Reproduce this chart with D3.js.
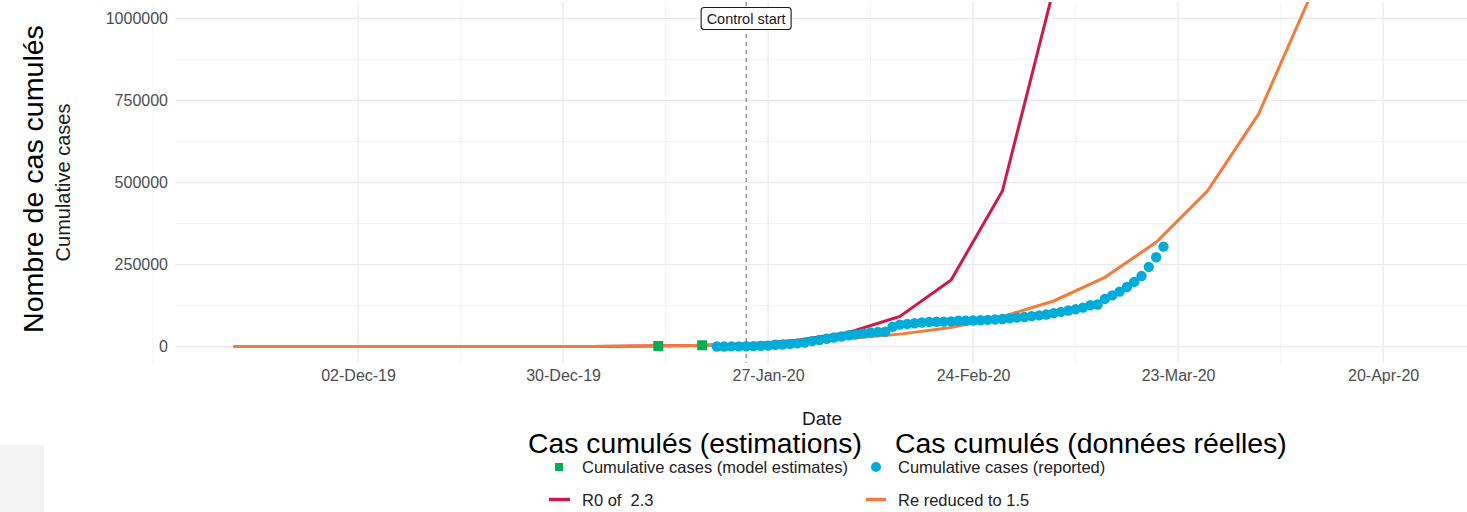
<!DOCTYPE html>
<html>
<head>
<meta charset="utf-8">
<script src="https://cdn.jsdelivr.net/npm/d3@7"></script>
<style>
body { margin: 0; background: #fff; overflow: hidden; }
svg text { font-family: "Liberation Sans", Arial, sans-serif; }
</style>
</head>
<body>
<div id="chart"></div>
<script>
// weekly model trajectories (Fridays)
var weekDates = ["2019-11-15", "2019-11-22", "2019-11-29", "2019-12-06", "2019-12-13", "2019-12-20",
  "2019-12-27", "2020-01-03", "2020-01-10", "2020-01-17", "2020-01-24", "2020-01-31", "2020-02-07",
  "2020-02-14", "2020-02-21", "2020-02-28", "2020-03-06", "2020-03-13", "2020-03-20", "2020-03-27",
  "2020-04-03", "2020-04-10", "2020-04-17"];
var r0Values = [2, 5, 11, 25, 55, 125, 280, 640, 1450, 3300, 7800, 19000, 43000, 92000, 203000,
  474000, 1090000, 2500000];
var reValues = [2, 5, 11, 25, 55, 125, 280, 640, 1450, 3300, 7800, 16000, 25000, 38000, 58000,
  91000, 139000, 211000, 318000, 474000, 709000, 1065000, 1600000];

// model estimates (green squares)
var estDates = ["2020-01-12", "2020-01-18"];
var estValues = [1723, 4000];

// reported cumulative cases, daily from 20-Jan-20
var reportedStart = "2020-01-20";
var reportedValues = [282, 314, 555, 654, 941, 1434, 2118, 2927, 5578, 6166, 8234, 9927, 12038, 16787,
  19887, 23898, 27643, 30802, 34395, 37129, 40160, 42769, 44811, 45229, 60381, 66909, 69052, 71235,
  73270, 75152, 75652, 76212, 76843, 78599, 78985, 79570, 80415, 81397, 82756, 84124, 86013, 88371,
  90309, 92844, 95124, 97886, 101800, 105836, 109835, 113582, 118582, 125865, 128343, 145193, 156094,
  167446, 181527, 197142, 214910, 242708, 272166, 304524];

var controlDate = "2020-01-24";

// axis ticks
var xTickDates = ["2019-12-02", "2019-12-30", "2020-01-27", "2020-02-24", "2020-03-23", "2020-04-20"];
var xTickLabels = ["02-Dec-19", "30-Dec-19", "27-Jan-20", "24-Feb-20", "23-Mar-20", "20-Apr-20"];
var xMinorDates = ["2019-11-04", "2019-12-16", "2020-01-13", "2020-02-10", "2020-03-09", "2020-04-06"];
var yTicks = [0, 250000, 500000, 750000, 1000000];
var yMinor = [125000, 375000, 625000, 875000];

var colRed = "#d3174a", colOrange = "#f47b3a", colBlue = "#00acd9", colGreen = "#07ad53";

var W = 1467, H = 512;
var panel = {left: 175, right: 1471, top: 2, bottom: 363};
var parse = d3.utcParse("%Y-%m-%d");

var svg = d3.select("#chart").append("svg")
    .attr("width", W)
    .attr("height", H);

var x = d3.scaleUtc()
    .domain([parse("2019-11-07"), parse("2020-05-02")])
    .range([panel.left, panel.right]);
var y = d3.scaleLinear()
    .domain([-50000, 1050000])
    .range([panel.bottom, panel.top]);

// grid
var grid = svg.append("g");
grid.selectAll(".ymin").data(yMinor).enter().append("line")
    .attr("x1", panel.left).attr("x2", W)
    .attr("y1", d => y(d)).attr("y2", d => y(d))
    .attr("stroke", "#f0f0f0").attr("stroke-width", 0.8);
grid.selectAll(".xmin").data(xMinorDates).enter().append("line")
    .attr("x1", d => x(parse(d))).attr("x2", d => x(parse(d)))
    .attr("y1", panel.top).attr("y2", panel.bottom)
    .attr("stroke", "#f0f0f0").attr("stroke-width", 0.8);
grid.selectAll(".ymaj").data(yTicks).enter().append("line")
    .attr("x1", panel.left).attr("x2", W)
    .attr("y1", d => y(d)).attr("y2", d => y(d))
    .attr("stroke", "#ebebeb").attr("stroke-width", 1.3);
grid.selectAll(".xmaj").data(xTickDates).enter().append("line")
    .attr("x1", d => x(parse(d))).attr("x2", d => x(parse(d)))
    .attr("y1", panel.top).attr("y2", panel.bottom)
    .attr("stroke", "#ebebeb").attr("stroke-width", 1.3);

// axes (text only, like theme_minimal)
var xAxis = svg.append("g")
    .attr("transform", "translate(0," + (panel.bottom + 4) + ")")
    .call(d3.axisBottom(x)
      .tickValues(xTickDates.map(parse))
      .tickFormat((d, i) => xTickLabels[i])
      .tickSize(0).tickPadding(3));
xAxis.select(".domain").remove();
xAxis.selectAll("text").attr("font-size", 16).attr("fill", "#4d4d4d")
    .attr("font-family", "Liberation Sans, Arial, sans-serif");

var yAxis = svg.append("g")
    .attr("transform", "translate(" + (panel.left - 7) + ",0)")
    .call(d3.axisLeft(y).tickValues(yTicks).tickFormat(d3.format("d")).tickSize(0).tickPadding(0));
yAxis.select(".domain").remove();
yAxis.selectAll("text").attr("font-size", 16).attr("fill", "#4d4d4d")
    .attr("font-family", "Liberation Sans, Arial, sans-serif");

// clip
svg.append("clipPath").attr("id", "clip").append("rect")
    .attr("x", panel.left).attr("y", panel.top)
    .attr("width", panel.right - panel.left).attr("height", panel.bottom - panel.top);
var plot = svg.append("g").attr("clip-path", "url(#clip)");

// control start line
plot.append("line")
    .attr("x1", x(parse(controlDate))).attr("x2", x(parse(controlDate)))
    .attr("y1", panel.top).attr("y2", panel.bottom)
    .attr("stroke", "#666").attr("stroke-width", 1)
    .attr("stroke-dasharray", "4,4");

var line = d3.line().x(d => x(d[0])).y(d => y(d[1]));

plot.append("path")
    .datum(r0Values.map((v, i) => [parse(weekDates[i]), v]))
    .attr("d", line)
    .attr("fill", "none").attr("stroke", colRed).attr("stroke-width", 3);
plot.append("path")
    .datum(reValues.map((v, i) => [parse(weekDates[i]), v]))
    .attr("d", line)
    .attr("fill", "none").attr("stroke", colOrange).attr("stroke-width", 3);

plot.selectAll(".est").data(estValues).enter().append("rect")
    .attr("x", (d, i) => x(parse(estDates[i])) - 5)
    .attr("y", d => y(d) - 5)
    .attr("width", 10).attr("height", 10)
    .attr("fill", colGreen);

var repDates = d3.utcDay.range(parse(reportedStart), d3.utcDay.offset(parse(reportedStart), reportedValues.length));
plot.selectAll(".rep").data(reportedValues).enter().append("circle")
    .attr("cx", (d, i) => x(repDates[i]))
    .attr("cy", d => y(d))
    .attr("r", 5.2)
    .attr("fill", colBlue);

// control start label
var lab = svg.append("g").attr("transform", "translate(" + x(parse(controlDate)) + ",18.5)");
var labText = lab.append("text")
    .attr("text-anchor", "middle").attr("dy", "0.35em")
    .attr("font-size", 14.5).attr("fill", "#1a1a1a")
    .text("Control start");
var lw = labText.node().getComputedTextLength() + 11;
lab.insert("rect", "text")
    .attr("x", -lw / 2).attr("y", -11).attr("width", lw).attr("height", 22)
    .attr("rx", 3).attr("fill", "#fff").attr("stroke", "#1a1a1a").attr("stroke-width", 1.1);

// axis titles
svg.append("text")
    .attr("x", (panel.left + panel.right) / 2 - 1).attr("y", 418).attr("dy", "0.35em")
    .attr("text-anchor", "middle").attr("font-size", 19).attr("fill", "#1a1a1a")
    .text("Date");
svg.append("text")
    .attr("transform", "translate(63," + ((panel.top + panel.bottom) / 2) + ") rotate(-90)")
    .attr("dy", "0.35em")
    .attr("text-anchor", "middle").attr("font-size", 20).attr("fill", "#1a1a1a")
    .text("Cumulative cases");

// legend
var leg = svg.append("g").attr("font-size", 16.5).attr("fill", "#222");
leg.append("rect").attr("x", 555).attr("y", 463).attr("width", 8).attr("height", 8).attr("fill", colGreen);
leg.append("text").attr("x", 582).attr("y", 467).attr("dy", "0.35em").text("Cumulative cases (model estimates)");
leg.append("circle").attr("cx", 876).attr("cy", 467).attr("r", 5).attr("fill", colBlue);
leg.append("text").attr("x", 898).attr("y", 467).attr("dy", "0.35em").text("Cumulative cases (reported)");
leg.append("line").attr("x1", 549).attr("x2", 570).attr("y1", 499.5).attr("y2", 499.5)
    .attr("stroke", colRed).attr("stroke-width", 3.5);
leg.append("text").attr("x", 582).attr("y", 500).attr("dy", "0.35em").attr("xml:space", "preserve").text("R0 of  2.3");
leg.append("line").attr("x1", 866).attr("x2", 886).attr("y1", 499.5).attr("y2", 499.5)
    .attr("stroke", colOrange).attr("stroke-width", 3.5);
leg.append("text").attr("x", 898).attr("y", 500).attr("dy", "0.35em").text("Re reduced to 1.5");

// French overlay labels
function fitText(sel, target) {
  var w = sel.node().getComputedTextLength();
  sel.attr("font-size", +sel.attr("font-size") * target / w);
}
var t1 = svg.append("text").attr("x", 528).attr("y", 443).attr("dy", "0.35em")
    .attr("font-family", "Open Sans, sans-serif").attr("font-size", 24).attr("fill", "#000")
    .text("Cas cumulés (estimations)");
fitText(t1, 334);
var t2 = svg.append("text").attr("x", 895).attr("y", 443).attr("dy", "0.35em")
    .attr("font-family", "Open Sans, sans-serif").attr("font-size", 24).attr("fill", "#000")
    .text("Cas cumulés (données réelles)");
fitText(t2, 392);
var t3 = svg.append("text")
    .attr("transform", "translate(33,179) rotate(-90)").attr("dy", "0.35em")
    .attr("text-anchor", "middle")
    .attr("font-family", "Open Sans, sans-serif").attr("font-size", 26).attr("fill", "#000")
    .text("Nombre de cas cumulés");
fitText(t3, 308);

// grey block bottom-left
svg.append("rect").attr("x", 0).attr("y", 445).attr("width", 44).attr("height", 67).attr("fill", "#f3f3f3");
</script>
</body>
</html>
